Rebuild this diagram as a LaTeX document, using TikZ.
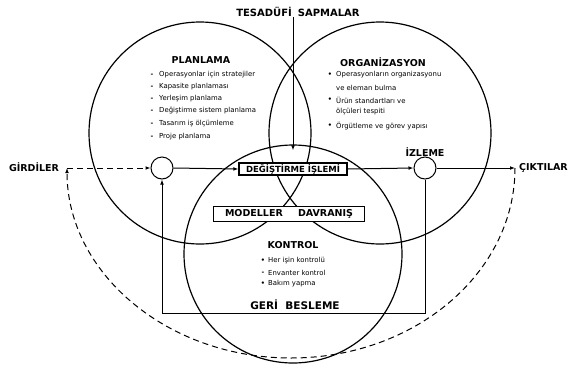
\documentclass[tikz,border=0pt]{standalone}
\usepackage{fontspec}
\setmainfont{DejaVu Sans}
\usetikzlibrary{arrows.meta,calc}
\begin{document}
\begin{tikzpicture}[x=1pt,y=-1pt,
 big/.style={draw,line width=1.2pt},
 ttl/.style={font=\bfseries\fontsize{9.5}{10}\selectfont, inner sep=0pt},
 itm/.style={font=\fontsize{6.9}{7.5}\selectfont, anchor=west, inner sep=0pt},
 bul/.style={font=\bfseries\fontsize{6.5}{7}\selectfont, inner sep=0pt},
 boxn/.style={draw, fill=white, line width=1.2pt, font=\bfseries\fontsize{8.5}{9}\selectfont, inner sep=1pt},
 sc/.style={circle, draw, fill=white, line width=1pt, minimum size=22pt, inner sep=0pt},
 arr/.style={-{Latex[length=5pt,width=3.8pt]}, line width=1pt},
 dsh/.style={dash pattern=on 6pt off 4pt, line width=0.9pt}]
\useasboundingbox (0,0) rectangle (573,365);

% three big circles
\draw[big] (200,133) circle[radius=111pt];
\draw[big] (380,133) circle[radius=111pt];
\draw[big] (293,254) circle[radius=109pt];

% titles
\node[font=\bfseries\fontsize{10}{11}\selectfont, inner sep=0pt] (tes) at (298,12) {TESADÜFİ\hspace{0.6em}SAPMALAR};
\node[ttl] (plan) at (201,60) {PLANLAMA};
\node[ttl] (org) at (383,62) {ORGANİZASYON};
\node[ttl] (kon) at (293,245) {KONTROL};
\node[ttl] (gir) at (34,167) {GİRDİLER};
\node[ttl, anchor=west] (cik) at (519,168) {ÇIKTILAR};
\node[ttl] (izl) at (425,152) {İZLEME};

% planlama items
\node[bul] (pb1) at (152,75) {-};
\node[itm] (p1) at (159,75) {Operasyonlar için stratejiler};
\node[bul] (pb2) at (152,87) {-};
\node[itm] (p2) at (159,87) {Kapasite planlaması};
\node[bul] (pb3) at (152,99) {-};
\node[itm] (p3) at (159,99) {Yerleşim planlama};
\node[bul] (pb4) at (152,111) {-};
\node[itm] (p4) at (159,111) {Değiştirme sistem planlama};
\node[bul] (pb5) at (152,124) {-};
\node[itm] (p5) at (159,124) {Tasarım iş ölçümleme};
\node[bul] (pb6) at (152,137) {-};
\node[itm] (p6) at (159,137) {Proje planlama};

% organizasyon items
\node[bul] (ob1) at (330,75) {•};
\node[itm] (o1) at (336,75) {Operasyonların organizasyonu};
\node[itm] (o2) at (336,88) {ve eleman bulma};
\node[bul] (ob3) at (330,100) {•};
\node[itm] (o3) at (336,100) {Ürün standartları ve};
\node[itm] (o4) at (336,112) {ölçüleri tespiti};
\node[bul] (ob5) at (330,126) {•};
\node[itm] (o5) at (336,126) {Örgütleme ve görev yapısı};

% kontrol items
\node[bul] (kb1) at (263,261) {•};
\node[itm] (k1) at (268,261) {Her işin kontrolü};
\node[bul] (kb2) at (263,273) {-};
\node[itm] (k2) at (268,273) {Envanter kontrol};
\node[bul] (kb3) at (263,284) {•};
\node[itm] (k3) at (268,284) {Bakım yapma};

% process nodes
\node[sc] (in) at (162,168) {};
\node[sc] (mon) at (425,168) {};
\node[boxn, minimum width=108pt, minimum height=12pt] (deg) at (293,169) {DEĞİŞTİRME İŞLEMİ};
\node[boxn, minimum width=151pt, minimum height=15pt, font=\bfseries\fontsize{9.5}{10}\selectfont] (mod) at (289,214) {MODELLER\hspace{1.6em}DAVRANIŞ};
\node[font=\bfseries\fontsize{10.5}{11}\selectfont, inner sep=0pt, anchor=south] (geri) at (295,310) {GERİ\hspace{0.7em}BESLEME};

% free ends
\coordinate (gin) at (67,168);
\coordinate (cout) at (515,168);
\coordinate (fbR) at (425,313);
\coordinate (fbL) at (162,313);

% connectors
\draw[dsh, arr] (gin) -- (in.west);
\draw[arr] (in.east) -- (deg.west);
\draw[arr] (deg.east) -- (mon.west);
\draw[arr] (mon.east) -- (cout);
\draw[arr, shorten >=12pt] (tes.south -| deg.north) -- (deg.north);
\draw[arr] (mon.south) -- (fbR) -- (fbL) -- (in.south);
\draw[dsh, arr] (cout) arc[start angle=0, end angle=-180, x radius=224pt, y radius=190pt];
\end{tikzpicture}
\end{document}
